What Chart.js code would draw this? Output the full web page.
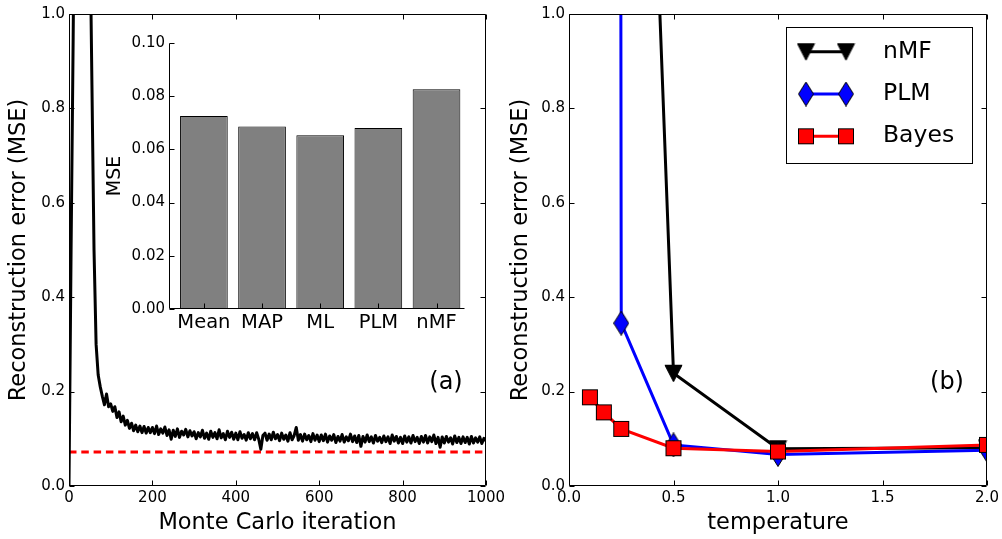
<!DOCTYPE html>
<html>
<head>
<meta charset="utf-8">
<script src="https://cdn.jsdelivr.net/npm/chart.js@4/dist/chart.umd.min.js"></script>
<style>
  html, body { margin: 0; padding: 0; background: #fff; }
  #wrap { position: relative; width: 1002px; height: 539px; overflow: hidden; }
  canvas { position: absolute; }
</style>
</head>
<body>
<div id="wrap">
  <canvas id="mcChart" width="512" height="539" style="left:0;top:0"></canvas>
  <canvas id="tempChart" width="502" height="539" style="left:500px;top:0"></canvas>
  <canvas id="insetChart" width="375" height="315" style="left:95px;top:25px"></canvas>
</div>
<script>
/* ── (a) Monte Carlo trace, one sample every MC_STEP iterations ── */
const MC_STEP = 5;
const mcMSE = [
  0.0, 0.5, 0.95, 1.5, 2.2, 2.8, 3.0, 2.9, 2.4, 1.8,
  1.2, 0.85, 0.5, 0.3, 0.235, 0.21, 0.19, 0.172, 0.195, 0.168,
  0.174, 0.158, 0.168, 0.145, 0.157, 0.136, 0.148, 0.129, 0.139, 0.122,
  0.133, 0.117, 0.129, 0.115, 0.127, 0.113, 0.126, 0.112, 0.124, 0.113,
  0.124, 0.111, 0.127, 0.109, 0.121, 0.112, 0.125, 0.107, 0.119, 0.099,
  0.118, 0.105, 0.121, 0.103, 0.116, 0.108, 0.12, 0.104, 0.117, 0.106,
  0.115, 0.1, 0.113, 0.104, 0.118, 0.101, 0.112, 0.099, 0.116, 0.103,
  0.113, 0.1, 0.119, 0.102, 0.111, 0.098, 0.116, 0.103, 0.114, 0.099,
  0.112, 0.098, 0.115, 0.101, 0.109, 0.097, 0.113, 0.1, 0.111, 0.098,
  0.113, 0.099, 0.078, 0.107, 0.112, 0.097, 0.11, 0.098, 0.114, 0.1,
  0.109, 0.096, 0.112, 0.099, 0.108, 0.095, 0.113, 0.098, 0.107, 0.124,
  0.097, 0.109, 0.095, 0.11, 0.098, 0.107, 0.094, 0.111, 0.097, 0.108,
  0.094, 0.108, 0.096, 0.11, 0.093, 0.106, 0.097, 0.109, 0.092, 0.105,
  0.095, 0.109, 0.093, 0.104, 0.096, 0.11, 0.094, 0.106, 0.092, 0.107,
  0.084, 0.105, 0.093, 0.108, 0.094, 0.104, 0.091, 0.107, 0.095, 0.103,
  0.092, 0.106, 0.094, 0.104, 0.09, 0.108, 0.095, 0.105, 0.091, 0.103,
  0.09, 0.106, 0.093, 0.104, 0.091, 0.107, 0.094, 0.103, 0.09, 0.105,
  0.093, 0.107, 0.091, 0.104, 0.094, 0.108, 0.09, 0.103, 0.082, 0.104,
  0.091, 0.105, 0.093, 0.102, 0.089, 0.106, 0.092, 0.103, 0.09, 0.104,
  0.092, 0.103, 0.089, 0.105, 0.091, 0.102, 0.093, 0.104, 0.09, 0.101,
  0.096
];
const bayesMean = 0.072;

/* ── inset bars ── */
const insetLabels = ['Mean', 'MAP', 'ML', 'PLM', 'nMF'];
const insetMSE = [0.0726, 0.0686, 0.0653, 0.068, 0.0826];

/* ── (b) temperature sweep ── */
const nmfT = [0.25, 0.5, 1.0, 2.0];
const nmfMSE = [3.16, 0.239, 0.079, 0.081];
const plmT = [0.1, 0.1667, 0.25, 0.5, 1.0, 2.0];
const plmMSE = [60, 30, 0.345, 0.087, 0.067, 0.076];
const bayesT = [0.1, 0.1667, 0.25, 0.5, 1.0, 2.0];
const bayesMSE = [0.188, 0.156, 0.121, 0.080, 0.073, 0.087];

Chart.defaults.font.family = '"DejaVu Sans", sans-serif';
Chart.defaults.color = '#000';

// matplotlib-like markers as small canvases
function markerCanvas(w, h, draw) {
    const c = document.createElement('canvas');
    c.width = w; c.height = h;
    draw(c.getContext('2d'));
    return c;
}
const triDown = markerCanvas(19, 19, g => {
    g.beginPath(); g.moveTo(1, 1.5); g.lineTo(18, 1.5); g.lineTo(9.5, 18); g.closePath();
    g.fillStyle = '#000'; g.fill(); g.strokeStyle = '#000'; g.lineWidth = 1; g.stroke();
});
const thinDiamond = markerCanvas(16, 25, g => {
    g.beginPath(); g.moveTo(8, 0.5); g.lineTo(15.5, 12.5); g.lineTo(8, 24.5); g.lineTo(0.5, 12.5); g.closePath();
    g.fillStyle = '#0000ff'; g.fill(); g.strokeStyle = '#000'; g.lineWidth = 1; g.stroke();
});
const squareMk = markerCanvas(18, 18, g => {
    g.fillStyle = '#ff0000'; g.fillRect(1, 1, 16, 16);
    g.strokeStyle = '#000'; g.lineWidth = 1; g.strokeRect(1.5, 1.5, 15, 15);
});

/* ── frame with inward ticks + panel tag ── */
const framePlugin = {
    id: 'frame',
    afterDraw(chart, args, opts) {
        const { ctx, chartArea: a, scales: { x, y } } = chart;
        const L = Math.round(a.left) + 0.5, R = Math.round(a.right) - 0.5;
        const T = Math.round(a.top) + 0.5, B = Math.round(a.bottom) - 0.5;
        const len = opts.tickLen || 5;
        ctx.save();
        ctx.strokeStyle = '#000';
        ctx.lineWidth = 1;
        ctx.beginPath();
        if (opts.inset) {
            ctx.moveTo(L, T); ctx.lineTo(L, B); ctx.lineTo(R, B);
        } else {
            ctx.rect(L, T, R - L, B - T);
        }
        x.ticks.forEach(t => {
            const px = Math.round(x.getPixelForValue(t.value)) + 0.5;
            ctx.moveTo(px, B); ctx.lineTo(px, B - len);
            if (!opts.inset) { ctx.moveTo(px, T); ctx.lineTo(px, T + len); }
        });
        y.ticks.forEach(t => {
            const py = Math.round(y.getPixelForValue(t.value)) + 0.5;
            ctx.moveTo(L, py); ctx.lineTo(L + len, py);
            if (!opts.inset) { ctx.moveTo(R, py); ctx.lineTo(R - len, py); }
        });
        ctx.stroke();
        if (opts.tag) {
            ctx.fillStyle = '#000';
            ctx.font = '24px "DejaVu Sans"';
            ctx.textAlign = 'center';
            ctx.textBaseline = 'middle';
            ctx.fillText(opts.tag, a.right - 40, a.bottom - 103);
        }
        ctx.restore();
    }
};

/* ── legend for (b): marker – line – marker, like matplotlib numpoints=2 ── */
const tempLegend = {
    id: 'tempLegend',
    afterDraw(chart) {
        const { ctx, chartArea: a } = chart;
        const w = 186, h = 136;
        const left = Math.round(a.right - 15 - w), top = Math.round(a.top + 13);
        ctx.save();
        ctx.fillStyle = '#fff';
        ctx.fillRect(left, top, w, h);
        ctx.strokeStyle = '#000'; ctx.lineWidth = 1;
        ctx.strokeRect(left + 0.5, top + 0.5, w, h);
        chart.data.datasets.forEach((ds, i) => {
            const yy = top + 24.7 + i * 42.3;
            const x1 = left + 20, x2 = left + 60;
            ctx.strokeStyle = ds.borderColor; ctx.lineWidth = ds.borderWidth;
            ctx.beginPath(); ctx.moveTo(x1, yy); ctx.lineTo(x2, yy); ctx.stroke();
            const m = ds.pointStyle;
            [x1, x2].forEach(xx => ctx.drawImage(m, xx - m.width / 2, yy - m.height / 2));
            ctx.fillStyle = '#000';
            ctx.font = '23.5px "DejaVu Sans"';
            ctx.textAlign = 'left';
            ctx.textBaseline = 'middle';
            ctx.fillText(ds.label, left + 97, yy);
        });
        ctx.restore();
    }
};

const tickFont = { size: 15 };
const titleFont = { size: 22.5, lineHeight: 1.2 };

function yAxis(titlePad) {
    return {
        min: 0, max: 1,
        ticks: { stepSize: 0.2, font: tickFont, padding: 4, callback: v => v.toFixed(1) },
        grid: { display: false, drawTicks: false },
        border: { display: false },
        title: { display: true, text: 'Reconstruction error (MSE)', font: titleFont, padding: { top: titlePad } },
        afterFit: s => { s.width = 69; }
    };
}

/* ── (a) ── */
new Chart(document.getElementById('mcChart'), {
    type: 'line',
    data: {
        datasets: [
            {
                data: mcMSE.map((v, i) => ({ x: i * MC_STEP, y: v })),
                borderColor: '#000', borderWidth: 3, borderJoinStyle: 'round',
                pointRadius: 0, tension: 0, clip: 0
            },
            {
                data: [{ x: 0, y: bayesMean }, { x: 1000, y: bayesMean }],
                borderColor: '#ff0000', borderWidth: 3, borderDash: [7.5, 4.8], pointRadius: 0, clip: 0
            }
        ]
    },
    options: {
        responsive: false, animation: false, events: [],
        layout: { padding: { left: 0, top: 14, right: 26, bottom: 0 } },
        plugins: { legend: { display: false }, tooltip: { enabled: false }, frame: { tag: '(a)' } },
        scales: {
            x: {
                type: 'linear', min: 0, max: 1000,
                ticks: { stepSize: 200, font: tickFont, padding: 3, maxRotation: 0, callback: v => String(v) },
                grid: { display: false, drawTicks: false },
                border: { display: false },
                title: { display: true, text: 'Monte Carlo iteration', font: titleFont, padding: { bottom: 2 } },
                afterFit: s => { s.height = 53; }
            },
            y: yAxis(6)
        }
    },
    plugins: [framePlugin]
});

/* ── (b) ── */
new Chart(document.getElementById('tempChart'), {
    type: 'line',
    data: {
        datasets: [
            { label: 'nMF', data: nmfT.map((t, i) => ({ x: t, y: nmfMSE[i] })), borderColor: '#000', borderWidth: 3, pointStyle: triDown, pointRadius: 10, tension: 0, clip: 0, order: 3 },
            { label: 'PLM', data: plmT.map((t, i) => ({ x: t, y: plmMSE[i] })), borderColor: '#0000ff', borderWidth: 3, pointStyle: thinDiamond, pointRadius: 10, tension: 0, clip: 0, order: 2 },
            { label: 'Bayes', data: bayesT.map((t, i) => ({ x: t, y: bayesMSE[i] })), borderColor: '#ff0000', borderWidth: 3, pointStyle: squareMk, pointRadius: 10, tension: 0, clip: 0, order: 1 }
        ]
    },
    options: {
        responsive: false, animation: false, events: [],
        layout: { padding: { left: 0, top: 14, right: 15, bottom: 0 } },
        plugins: { legend: { display: false }, tooltip: { enabled: false }, frame: { tag: '(b)' } },
        scales: {
            x: {
                type: 'linear', min: 0, max: 2,
                ticks: { stepSize: 0.5, font: tickFont, padding: 3, maxRotation: 0, callback: v => v.toFixed(1) },
                grid: { display: false, drawTicks: false },
                border: { display: false },
                title: { display: true, text: 'temperature', font: titleFont, padding: { bottom: 2 } },
                afterFit: s => { s.height = 53; }
            },
            y: yAxis(8)
        }
    },
    plugins: [framePlugin, tempLegend]
});

/* ── inset bar chart ── */
new Chart(document.getElementById('insetChart'), {
    type: 'bar',
    data: {
        datasets: [{
            data: insetMSE.map((v, i) => ({ x: i, y: v })),
            backgroundColor: '#808080', borderColor: '#000', borderWidth: 1,
            categoryPercentage: 1, barPercentage: 0.82
        }]
    },
    options: {
        responsive: false, animation: false, events: [],
        layout: { padding: { left: 0, top: 18, right: 5, bottom: 0 } },
        plugins: { legend: { display: false }, tooltip: { enabled: false }, frame: { inset: true, tickLen: 5 } },
        scales: {
            x: {
                type: 'linear', min: -0.6, max: 4.49, offset: false,
                afterBuildTicks: s => { s.ticks = insetLabels.map((c, i) => ({ value: i })); },
                ticks: { autoSkip: false, maxRotation: 0, font: { size: 19.5 }, padding: 2, callback: v => insetLabels[v] },
                grid: { display: false, drawTicks: false },
                border: { display: false },
                afterFit: s => { s.height = 31; }
            },
            y: {
                min: 0, max: 0.1,
                ticks: { stepSize: 0.02, font: tickFont, padding: 4, callback: v => v.toFixed(2) },
                grid: { display: false, drawTicks: false },
                border: { display: false },
                title: { display: true, text: 'MSE', font: { size: 19, lineHeight: 1.2 }, padding: { top: 9 } },
                afterFit: s => { s.width = 74; }
            }
        }
    },
    plugins: [framePlugin]
});
</script>
</body>
</html>
